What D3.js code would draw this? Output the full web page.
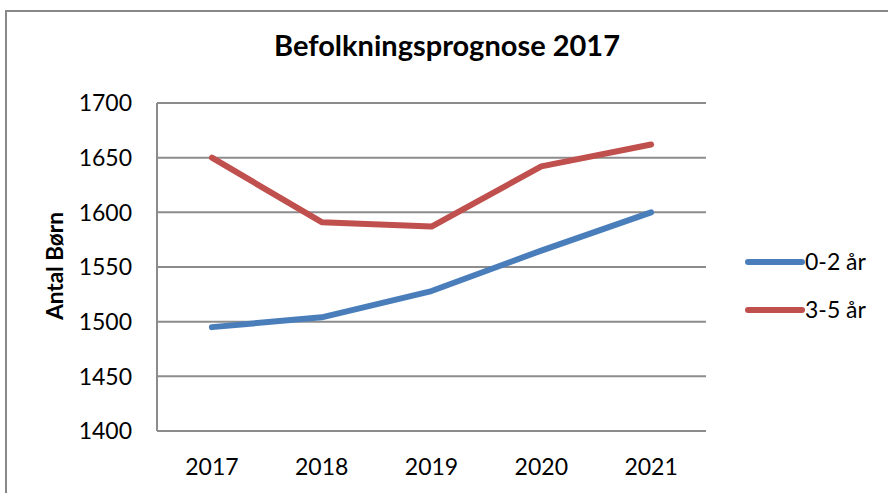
<!DOCTYPE html>
<html>
<head>
<meta charset="utf-8">
<script src="https://cdn.jsdelivr.net/npm/d3@7/dist/d3.min.js"></script>
<style>
  body { margin: 0; background: #fff; }
  text { font-family: Lato, "Open Sans", sans-serif; fill: #000; }
</style>
</head>
<body>
<div id="chart"></div>
<script>
// Data
var years = ['2017', '2018', '2019', '2020', '2021'];
var age02 = [1495, 1504, 1528, 1565, 1600];
var age35 = [1650, 1591, 1587, 1642, 1662];
var yTicks = [1400, 1450, 1500, 1550, 1600, 1650, 1700];
var seriesNames = ['0-2 år', '3-5 år'];
var seriesColors = ['#4a7ebb', '#c0504d'];

var width = 888;
var height = 493;
var plot = { left: 157, top: 103, right: 706, bottom: 431 };

var svg = d3.select('#chart')
            .append('svg')
            .attr('width', width)
            .attr('height', height);

// Outer chart frame
svg.append('rect')
   .attr('x', 6)
   .attr('y', 11)
   .attr('width', 900)
   .attr('height', 500)
   .attr('fill', 'none')
   .attr('stroke', '#888')
   .attr('stroke-width', 2);

var x = d3.scaleBand()
          .domain(years)
          .range([plot.left, plot.right]);

var y = d3.scaleLinear()
          .domain([1400, 1700])
          .range([plot.bottom, plot.top]);

// Gridlines
svg.append('g')
   .selectAll('line')
   .data(yTicks)
   .enter()
   .append('line')
   .attr('x1', plot.left)
   .attr('x2', plot.right)
   .attr('y1', function (d) { return y(d); })
   .attr('y2', function (d) { return y(d); })
   .attr('stroke', '#8c8c8c')
   .attr('stroke-width', 2);

// Left axis line
svg.append('line')
   .attr('x1', plot.left)
   .attr('x2', plot.left)
   .attr('y1', plot.top)
   .attr('y2', plot.bottom)
   .attr('stroke', '#8c8c8c')
   .attr('stroke-width', 2);

// Y tick labels
svg.append('g')
   .selectAll('text')
   .data(yTicks)
   .enter()
   .append('text')
   .attr('x', 132)
   .attr('y', function (d) { return y(d); })
   .attr('dy', '0.36em')
   .attr('text-anchor', 'end')
   .style('font-size', '23px')
   .text(function (d) { return d; });

// X tick labels
svg.append('g')
   .selectAll('text')
   .data(years)
   .enter()
   .append('text')
   .attr('x', function (d) { return x(d) + x.bandwidth() / 2; })
   .attr('y', 467)
   .attr('dy', '0.36em')
   .attr('text-anchor', 'middle')
   .style('font-size', '23px')
   .text(function (d) { return d; });

// Title
svg.append('text')
   .attr('x', 447)
   .attr('y', 46)
   .attr('dy', '0.36em')
   .attr('text-anchor', 'middle')
   .style('font-size', '29px')
   .style('font-weight', 'bold')
   .text('Befolkningsprognose 2017');

// Y axis title
svg.append('text')
   .attr('transform', 'translate(55,266) rotate(-90)')
   .attr('dy', '0.36em')
   .attr('text-anchor', 'middle')
   .style('font-size', '22.5px')
   .style('font-weight', 'bold')
   .text('Antal Børn');

// Lines
var line = d3.line()
             .x(function (d, i) { return x(years[i]) + x.bandwidth() / 2; })
             .y(function (d) { return y(d); });

[age02, age35].forEach(function (values, i) {
  svg.append('path')
     .datum(values)
     .attr('d', line)
     .attr('fill', 'none')
     .attr('stroke', seriesColors[i])
     .attr('stroke-width', 6)
     .attr('stroke-linecap', 'round')
     .attr('stroke-linejoin', 'round');
});

// Legend
var legend = svg.append('g')
                .selectAll('g')
                .data(seriesNames)
                .enter()
                .append('g')
                .attr('transform', function (d, i) {
                  return 'translate(748,' + (262 + i * 48) + ')';
                });

legend.append('line')
      .attr('x1', 0)
      .attr('x2', 54)
      .attr('stroke', function (d, i) { return seriesColors[i]; })
      .attr('stroke-width', 6)
      .attr('stroke-linecap', 'round');

legend.append('text')
      .attr('x', 57)
      .attr('dy', '0.36em')
      .style('font-size', '23px')
      .text(function (d) { return d; });
</script>
</body>
</html>
